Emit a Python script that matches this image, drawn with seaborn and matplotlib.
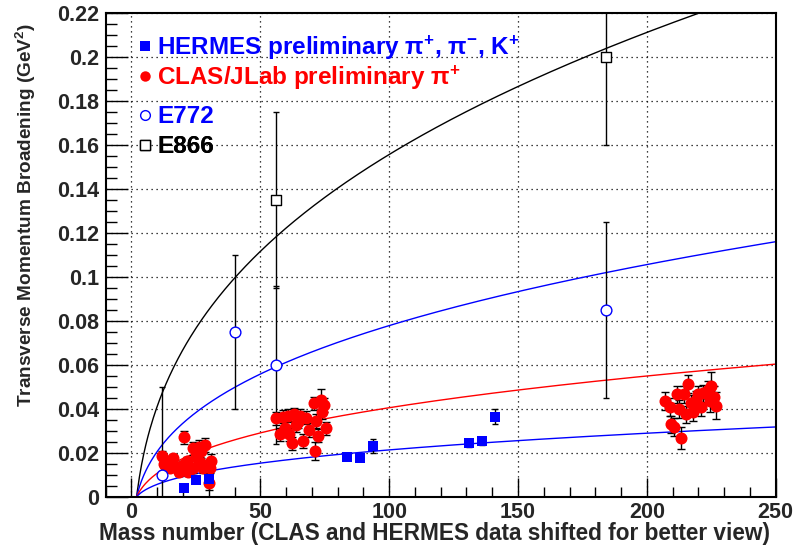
import numpy as np
import pandas as pd
import matplotlib
matplotlib.use("Agg")
import matplotlib.pyplot as plt
import seaborn as sns
from matplotlib.lines import Line2D
from matplotlib.ticker import MultipleLocator

# ---------------- data ----------------
hermes_A = [20.3, 25.1, 30.1, 83.8, 88.6, 93.7, 131.0, 136.1, 141.2]
hermes_pt = [0.0041, 0.0077, 0.0080, 0.0182, 0.0177, 0.0230, 0.0243, 0.0252, 0.0364]
hermes_err = [0.0015, 0.0015, 0.0020, 0.0015, 0.0015, 0.0030, 0.0015, 0.0015, 0.0035]

clas_A = [11.8, 13.6, 16.1, 17.5, 14.9, 20.0, 21.6, 20.3, 23.9, 26.2, 27.1, 24.9,
          26.5, 23.7, 27.8, 31.0, 30.4, 30.1, 18.5, 22.0, 28.4, 12.8,
          73.7, 70.8, 74.7, 74.1, 56.2, 58.8, 60.8, 63.1, 65.3, 67.9, 64.6,
          64.0, 59.4, 71.8, 75.6, 68.9, 72.4, 57.5, 61.0, 62.3, 66.6, 71.1,
          215.8, 224.7, 223.7, 219.8, 221.7, 226.0, 211.8, 214.4, 207.2, 208.8,
          212.3, 217.2, 221.1, 217.8, 215.2, 227.0, 224.4, 209.2, 210.5, 213.4, 219.0]
clas_pt = [0.0186, 0.0162, 0.0175, 0.0136, 0.0132, 0.0144, 0.0162, 0.0270, 0.0220, 0.0227,
           0.0208, 0.0180, 0.0159, 0.0129, 0.0129, 0.0162, 0.0129, 0.0060, 0.0114, 0.0114,
           0.0235, 0.0150,
           0.0440, 0.0424, 0.0417, 0.0384, 0.0356, 0.0364, 0.0368, 0.0374, 0.0368, 0.0359,
           0.0341, 0.0326, 0.0311, 0.0344, 0.0311, 0.0303, 0.0277, 0.0284, 0.0284, 0.0243,
           0.0253, 0.0208,
           0.0511, 0.0505, 0.0485, 0.0465, 0.0470, 0.0455, 0.0465, 0.0465, 0.0435, 0.0409,
           0.0399, 0.0424, 0.0409, 0.0386, 0.0374, 0.0414, 0.0435, 0.0329, 0.0318, 0.0265,
           0.0440]
clas_err = [0.002, 0.002, 0.002, 0.002, 0.002, 0.002, 0.002, 0.003, 0.003, 0.003,
            0.003, 0.002, 0.002, 0.002, 0.002, 0.003, 0.002, 0.003, 0.002, 0.002,
            0.003, 0.002,
            0.005, 0.003, 0.003, 0.003, 0.003, 0.003, 0.003, 0.003, 0.003, 0.003,
            0.003, 0.003, 0.003, 0.003, 0.003, 0.003, 0.003, 0.003, 0.003, 0.003,
            0.003, 0.004,
            0.004, 0.006, 0.004, 0.004, 0.004, 0.005, 0.004, 0.004, 0.004, 0.004,
            0.004, 0.004, 0.004, 0.004, 0.004, 0.006, 0.005, 0.004, 0.004, 0.005,
            0.004]

e772_A = [12, 40, 56, 184]
e772_pt = [0.010, 0.075, 0.060, 0.085]
e772_err = [0.040, 0.035, 0.036, 0.040]

e866_A = [56, 184]
e866_pt = [0.135, 0.200]
e866_err = [0.040, 0.040]

# fit curves: c * (A^(1/3) - 2^(1/3))
fit_names = ["E866 fit", "E772 fit", "CLAS fit", "HERMES fit"]
fit_coef = [0.0460, 0.0230, 0.01196, 0.00629]

legend_labels = [r"HERMES preliminary π$^{+}$, π$^{-}$, K$^{+}$",
                 r"CLAS/JLab preliminary π$^{+}$",
                 "E772",
                 "E866"]

xlabel = "Mass number (CLAS and HERMES data shifted for better view)"
ylabel = r"Transverse Momentum Broadening (GeV$^{2}$)"

# ---------------- style ----------------
sns.set_style("white")
plt.rcParams["font.family"] = ["Liberation Sans", "DejaVu Sans"]
plt.rcParams["font.weight"] = "bold"
plt.rcParams["mathtext.fontset"] = "custom"
plt.rcParams["mathtext.rm"] = "Liberation Sans:bold"
plt.rcParams["mathtext.bf"] = "Liberation Sans:bold"
plt.rcParams["mathtext.it"] = "Liberation Sans:bold"
plt.rcParams["mathtext.default"] = "bf"

fig = plt.figure(figsize=(7.96, 5.46), dpi=100)
ax = fig.add_axes([0.1328, 0.0903, 0.8417, 0.8864])

# fit curves
A_grid = np.linspace(1.0, 250.0, 600)
fit_colors = ["black", "blue", "red", "blue"]
rows = []
for name, c in zip(fit_names, fit_coef):
    for a in A_grid:
        rows.append({"A": a, "pt": c * (a ** (1 / 3) - 2 ** (1 / 3)), "fit": name})
fit_df = pd.DataFrame(rows)
sns.lineplot(data=fit_df, x="A", y="pt", hue="fit", palette=dict(zip(fit_names, fit_colors)),
             hue_order=fit_names, lw=1.0, ax=ax, legend=False, sort=False, zorder=2)

# error bars
eb = dict(fmt="none", ecolor="black", elinewidth=1.0, capthick=1.0, zorder=3)
ax.errorbar(e772_A, e772_pt, yerr=e772_err, capsize=2.5, **eb)
ax.errorbar(e866_A, e866_pt, yerr=e866_err, capsize=2.5, **eb)
ax.errorbar(clas_A, clas_pt, yerr=clas_err, capsize=3, **eb)
ax.errorbar(hermes_A, hermes_pt, yerr=hermes_err, capsize=2.5, **eb)

# markers
sns.scatterplot(x=clas_A, y=clas_pt, ax=ax, color="red", marker="o", s=75,
                linewidth=0, zorder=4, legend=False)
sns.scatterplot(x=hermes_A, y=hermes_pt, ax=ax, color="blue", marker="s", s=55,
                linewidth=0, zorder=5, legend=False)
sns.scatterplot(x=e772_A, y=e772_pt, ax=ax, marker="o", s=60, facecolor="white",
                edgecolor="blue", linewidth=1.0, zorder=5, legend=False)
sns.scatterplot(x=e866_A, y=e866_pt, ax=ax, marker="s", s=55, facecolor="white",
                edgecolor="black", linewidth=1.0, zorder=5, legend=False)

# axes
ax.set_xlim(-10, 250)
ax.set_ylim(0, 0.22)
ax.xaxis.set_major_locator(MultipleLocator(50))
ax.xaxis.set_minor_locator(MultipleLocator(10))
ax.yaxis.set_major_locator(MultipleLocator(0.02))
ax.yaxis.set_minor_locator(MultipleLocator(0.005))
ax.yaxis.set_major_formatter(matplotlib.ticker.FuncFormatter(
    lambda v, p: "0" if abs(v) < 1e-9 else ("%.2f" % v).rstrip("0")))
ax.tick_params(which="both", direction="in", top=False, right=False, left=True, bottom=True,
               width=1.0, color="black", labelsize=15.5)
ax.tick_params(axis="y", which="major", length=16, pad=5)
ax.tick_params(axis="y", which="minor", length=8)
ax.tick_params(axis="x", which="major", length=14, pad=4)
ax.tick_params(axis="x", which="minor", length=7)
for lab in ax.get_xticklabels() + ax.get_yticklabels():
    lab.set_fontweight("bold")
for sp in ax.spines.values():
    sp.set_linewidth(1.5)
    sp.set_color("black")
ax.grid(True, which="major", color="black", linestyle=(0, (1, 3)), linewidth=0.9)
ax.set_axisbelow(True)

ax.set_xlabel(xlabel, fontsize=16.3, fontweight="bold", labelpad=0)
ax.set_ylabel(ylabel, fontsize=13.7, fontweight="bold", labelpad=8)
ax.xaxis.set_label_coords(0.49, -0.052)
ax.yaxis.set_label_coords(-0.101, 0.582)

handles = [
    Line2D([], [], ls="none", marker="s", color="blue", markersize=7, markeredgewidth=0),
    Line2D([], [], ls="none", marker="o", color="red", markersize=7.5, markeredgewidth=0),
    Line2D([], [], ls="none", marker="o", markerfacecolor="white", markeredgecolor="blue",
           markersize=7, markeredgewidth=1.0),
    Line2D([], [], ls="none", marker="s", markerfacecolor="white", markeredgecolor="black",
           markersize=6.5, markeredgewidth=1.0),
]
legend_colors = ["blue", "red", "blue", "black"]
legend_rows_y = [0.928, 0.866, 0.785, 0.723]
for h, lab, col, yy in zip(handles, legend_labels, legend_colors, legend_rows_y):
    lg = ax.legend([h], [lab], loc="center left", bbox_to_anchor=(0.048, yy),
                   frameon=False, prop={"size": 17.5, "weight": "bold"},
                   labelcolor=[col], handlelength=0.6, handletextpad=0.2,
                   borderpad=0, borderaxespad=0)
    ax.add_artist(lg)

fig.savefig("out.png", dpi=100)
